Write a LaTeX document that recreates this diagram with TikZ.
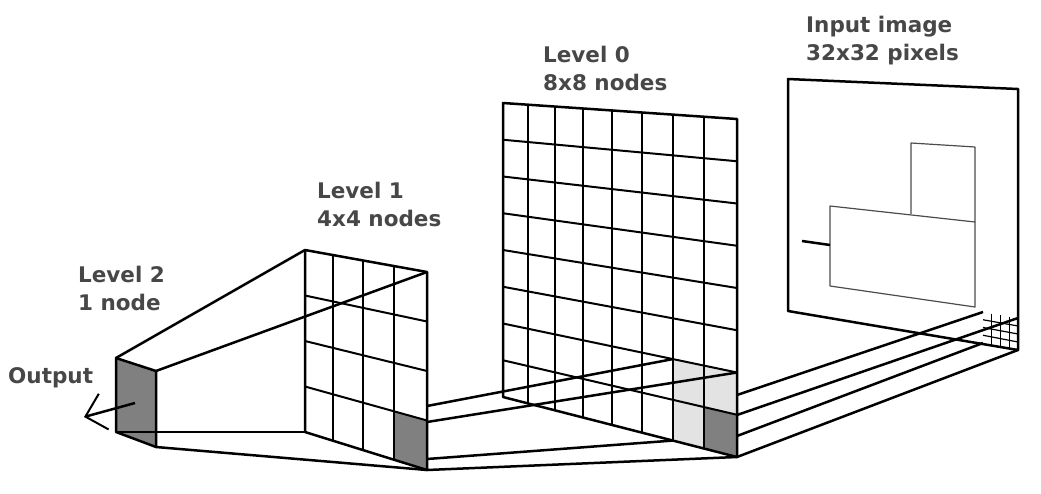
\documentclass[tikz,border=0pt]{standalone}
\usepackage{fontspec}
\setmainfont{DejaVu Sans}
\usetikzlibrary{calc,arrows.meta}
% point inside a panel: u along the top edge, v down the side
\newcommand{\pp}[3]{($($(#1tl)!#2!(#1tr)$)!#3!($(#1bl)!#2!(#1br)$)$)}
\begin{document}
\begin{tikzpicture}[x=1pt,y=-1pt,line join=round,
label/.style={
% The text:
font=\fontsize{21.5}{28}\selectfont\bfseries,
text=black!72,
align=left,inner sep=0pt,anchor=base west},
edge/.style={line width=2.5pt},
grid/.style={line width=2pt},
thin/.style={line width=1.2pt,black!70},
dark/.style={fill=black!50},
light/.style={fill=black!11}]
\useasboundingbox (0,0) rectangle (1041,493);

% panels
\coordinate (atl) at (116,358); \coordinate (atr) at (156,371);
\coordinate (abr) at (156,447); \coordinate (abl) at (116,432);
\coordinate (btl) at (305,250); \coordinate (btr) at (427,272);
\coordinate (bbr) at (427,470); \coordinate (bbl) at (305,432);
\coordinate (ctl) at (503,103); \coordinate (ctr) at (737,119);
\coordinate (cbr) at (737,457); \coordinate (cbl) at (503,397);
\coordinate (dtl) at (788,79);  \coordinate (dtr) at (1018,89);
\coordinate (dbr) at (1018,350); \coordinate (dbl) at (788,311);
\coordinate (etl) at (983,312); \coordinate (etr) at (1018,318);
\coordinate (ebr) at (1018,350); \coordinate (ebl) at (983,343);

% shaded cells
\fill[dark] (atl) -- (atr) -- (abr) -- (abl) -- cycle;
\fill[dark] \pp{b}{.73}{.75} -- \pp{b}{1}{.75} -- \pp{b}{1}{1} -- \pp{b}{.73}{1} -- cycle;
\fill[light] \pp{c}{.726}{.75} -- \pp{c}{1}{.75} -- \pp{c}{1}{1} -- \pp{c}{.726}{1} -- cycle;
\fill[dark] \pp{c}{.859}{.875} -- \pp{c}{1}{.875} -- \pp{c}{1}{1} -- \pp{c}{.859}{1} -- cycle;

% level 1 grid
\foreach \u in {.23,.475,.73}
  \draw[line width=1.4pt] \pp{b}{\u}{0} -- \pp{b}{\u}{1};
\foreach \v in {.25,.5,.75}
  \draw[grid] \pp{b}{0}{\v} -- \pp{b}{1}{\v};
% level 0 grid
\foreach \u in {.107,.222,.342,.466,.594,.726,.859}
  \draw[grid] \pp{c}{\u}{0} -- \pp{c}{\u}{1};
\foreach \v in {.125,.25,.375,.5,.625,.75,.875}
  \draw[grid] \pp{c}{0}{\v} -- \pp{c}{1}{\v};
% input patch
\foreach \u in {.25,.5,.75}{
  \draw[line width=1.2pt] \pp{e}{\u}{0} -- \pp{e}{\u}{1};
  \draw[line width=1.2pt] \pp{e}{0}{\u} -- \pp{e}{1}{\u};}

% panel borders
\foreach \p in {a,b,c,d}
  \draw[edge] (\p tl) -- (\p tr) -- (\p br) -- (\p bl) -- cycle;

% input picture
\draw[thin] (911,214) -- (911,143) -- (975,147) -- (975,222);
\draw[thin] (830,206) -- (975,222) -- (975,307) -- (830,286) -- cycle;
\draw[edge] (802,241) -- (830,245);

% connectors between levels
\draw[edge] (atl) -- (btl);
\draw[edge] (atr) -- (btr);
\draw[edge] (abl) -- (bbl);
\draw[edge] (abr) -- (bbr);
\draw[edge] (427,406) -- \pp{c}{.726}{.75};
\draw[edge] (427,422) -- \pp{c}{1}{.75};
\draw[edge] (427,459) -- \pp{c}{.726}{1};
\draw[edge] (bbr) -- (cbr);
\draw[edge] (737,395) -- (etl);
\draw[edge] (737,415) -- (etr);
\draw[edge] (737,436) -- (ebl);
\draw[edge] (cbr) -- (ebr);

% output arrow
\draw[edge,-{Straight Barb[length=19pt,width=37pt,line width=2pt]}] (135,403) -- (84,417);

% labels
\node[label] (out) at (8,383) {Output};
\node[label] (l2) at (78,310) {Level 2\\1 node};
\node[label] (l1) at (317,226) {Level 1\\4x4 nodes};
\node[label] (l0) at (543,90) {Level 0\\8x8 nodes};
\node[label] (in) at (806,60) {Input image\\32x32 pixels};
\end{tikzpicture}
\end{document}
